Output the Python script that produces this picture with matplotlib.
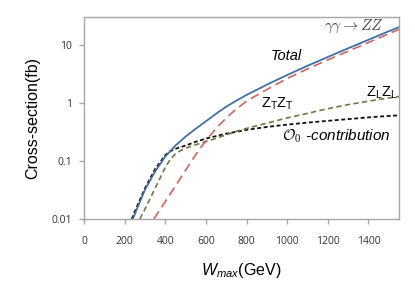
import numpy as np
import matplotlib
matplotlib.use("Agg")
import matplotlib.pyplot as plt

plt.rcParams['font.family'] = ['Liberation Sans', 'DejaVu Sans']
plt.rcParams['mathtext.fontset'] = 'custom'
plt.rcParams['mathtext.rm'] = 'Liberation Sans'
plt.rcParams['mathtext.it'] = 'Liberation Sans:italic'

# values (W_max in GeV, cross-section in fb)
w_total = [240, 300, 350, 400, 450, 500, 550, 600, 650, 700, 750, 800,
           900, 1000, 1100, 1200, 1300, 1400, 1500, 1550]
s_total = [0.01, 0.032, 0.066, 0.119, 0.184, 0.263, 0.359, 0.482, 0.65,
           0.861, 1.094, 1.368, 2.06, 3.02, 4.35, 6.17, 8.7, 12.2, 17.1, 20.1]

w_tt = [344, 400, 450, 500, 550, 600, 650, 700, 750, 800, 900, 1000,
        1100, 1200, 1300, 1400, 1500, 1550]
s_tt = [0.01, 0.02, 0.037, 0.069, 0.129, 0.224, 0.363, 0.55, 0.785, 1.07,
        1.70, 2.63, 3.85, 5.5, 7.76, 10.96, 15.5, 18.4]

w_ll = [275, 300, 350, 400, 425, 450, 475, 500, 550, 600, 650, 700, 750,
        800, 900, 1000, 1100, 1200, 1300, 1400, 1500, 1550]
s_ll = [0.01, 0.0148, 0.0339, 0.0776, 0.107, 0.132, 0.151, 0.166, 0.19,
        0.216, 0.245, 0.282, 0.324, 0.363, 0.447, 0.55, 0.66, 0.794, 0.933,
        1.07, 1.216, 1.288]

w_o0 = [235, 250, 300, 350, 400, 425, 450, 500, 550, 600, 700, 800, 900,
        1000, 1100, 1200, 1300, 1400, 1500, 1550]
s_o0 = [0.01, 0.0135, 0.0339, 0.0724, 0.126, 0.148, 0.162, 0.184, 0.214,
        0.243, 0.295, 0.343, 0.385, 0.422, 0.457, 0.49, 0.525, 0.562, 0.596,
        0.61]

xticks = [0, 200, 400, 600, 800, 1000, 1200, 1400]
yticks = [0.01, 0.1, 1, 10]
ytick_labels = ['0.01', '0.1', '1', '10']

fig = plt.figure(figsize=(4.15, 2.94), dpi=100)
ax = fig.add_axes([0.2024, 0.255, 0.759, 0.687])

ax.plot(w_o0, s_o0, color='#111111', lw=1.3, dashes=(2.2, 1.4))
ax.plot(w_ll, s_ll, color='#6b7c3c', lw=1.2, dashes=(3.2, 2.0))
ax.plot(w_tt, s_tt, color='#d9605a', lw=1.2, dashes=(5.5, 3.0))
ax.plot(w_total, s_total, color='#3f6fa8', lw=1.3)

ax.set_yscale('log')
ax.set_xlim(0, 1550)
ax.set_ylim(0.01, 30)
ax.set_xticks(xticks)
ax.set_yticks(yticks)
ax.set_yticklabels(ytick_labels)
ax.minorticks_off()

for s in ax.spines.values():
    s.set_color('#a6a6a6')
    s.set_linewidth(1.0)
ax.tick_params(axis='both', colors='#a6a6a6', length=3.5, width=1.0,
               labelcolor='#333333', labelsize=7.5)
ax.tick_params(axis='x', pad=9)
ax.tick_params(axis='y', pad=5)
for lab in ax.get_xticklabels() + ax.get_yticklabels():
    lab.set_family('Open Sans')

ax.set_ylabel('Cross-section(fb)', fontsize=11.5, labelpad=8)
ax.set_xlabel(r'$W_{max}$(GeV)', fontsize=11.5, labelpad=10)

ax.text(1478, 21, r'$\gamma\gamma \rightarrow ZZ$', ha='right', va='center',
        fontsize=11, color='#444444', math_fontfamily='cm')
ax.text(997, 6.5, 'Total', ha='center', va='center', fontsize=10.5,
        style='italic')
ax.text(953, 0.98, r'Z$_\mathregular{T}$Z$_\mathregular{T}$', ha='center',
        va='center', fontsize=10.5)
ax.text(1464, 1.5, r'Z$_\mathregular{L}$Z$_\mathregular{L}$', ha='center',
        va='center', fontsize=10.5)
ax.text(975, 0.265, r'$\mathcal{O}_0$ -contribution', ha='left',
        va='center', fontsize=11, style='italic', math_fontfamily='cm')

fig.savefig('out.png', dpi=100)
